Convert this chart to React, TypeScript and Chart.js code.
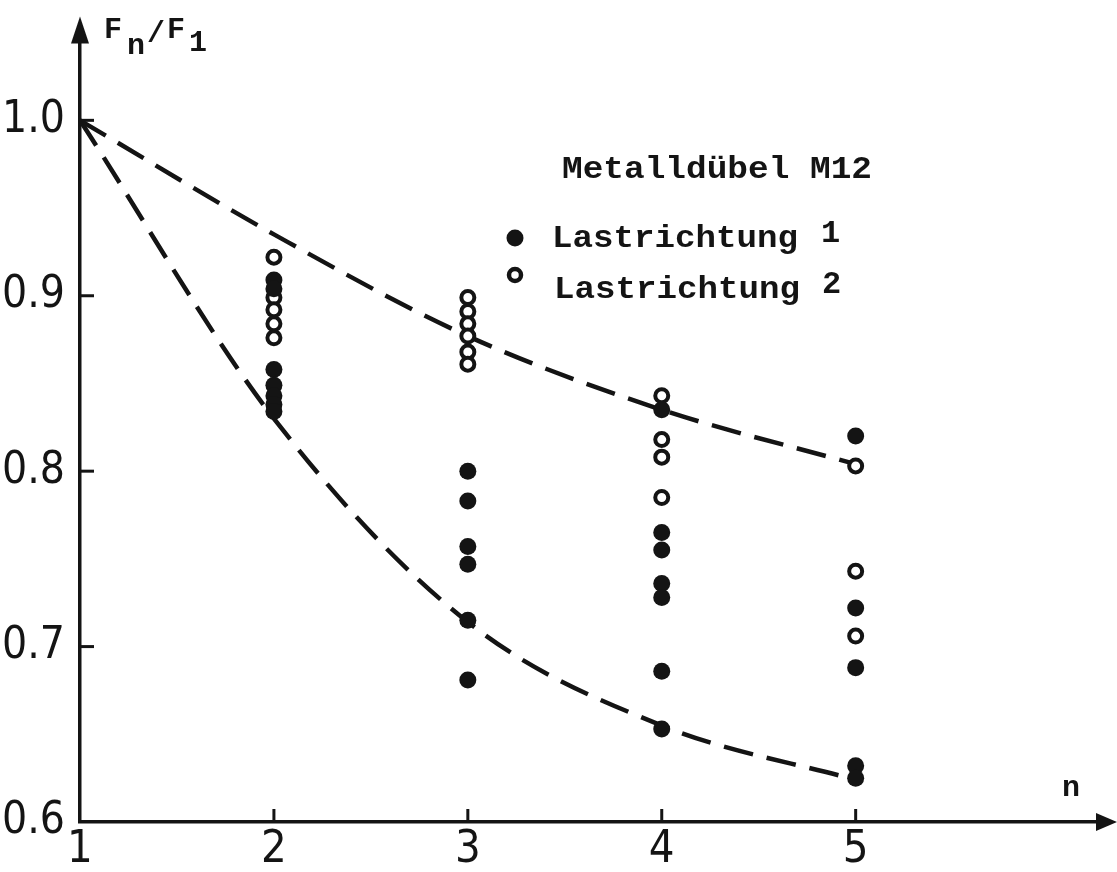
import React, { useEffect, useRef } from "react";
import { Chart, registerables } from "chart.js";

Chart.register(...registerables);

// ---------- data ----------
const nValues = [1, 2, 3, 4, 5];
const yTickValues = [0.6, 0.7, 0.8, 0.9, 1.0];
const yTickLabels = ["0.6", "0.7", "0.8", "0.9", "1.0"];

// Lastrichtung 1 (filled markers), per n
const dir1_n2 = [0.909, 0.904, 0.858, 0.849, 0.843, 0.838, 0.834];
const dir1_n3 = [0.8, 0.783, 0.757, 0.747, 0.715, 0.681];
const dir1_n4 = [0.835, 0.765, 0.755, 0.736, 0.728, 0.686, 0.653];
const dir1_n5 = [0.82, 0.722, 0.688, 0.632, 0.625];

// Lastrichtung 2 (open markers), per n
const dir2_n2 = [0.922, 0.899, 0.892, 0.884, 0.876];
const dir2_n3 = [0.899, 0.891, 0.884, 0.877, 0.868, 0.861];
const dir2_n4 = [0.843, 0.818, 0.808, 0.785];
const dir2_n5 = [0.803, 0.743, 0.706];

// dashed envelope curves at n = 1..5
const upperCurve = [1.0, 0.935, 0.877, 0.835, 0.804];
const lowerCurve = [1.0, 0.83, 0.714, 0.655, 0.624];

const titleText = "Metalldübel M12";
const legendLabel = "Lastrichtung";
const legendNumbers = ["1", "2"];

// ---------- styling ----------
const INK = "#141414";
const NARROW = "'Liberation Sans Narrow', 'DejaVu Sans Condensed', sans-serif";
const MONO = "'Liberation Mono', 'Courier New', monospace";

const toPoints = (groups: [number, number[]][]) =>
  groups.flatMap(([n, ys]) => ys.map((y) => ({ x: n, y })));

const drawStretched = (
  ctx: CanvasRenderingContext2D,
  text: string,
  x: number,
  y: number,
  font: string,
  width?: number
) => {
  ctx.save();
  ctx.font = font;
  ctx.textAlign = "left";
  ctx.textBaseline = "alphabetic";
  const w = ctx.measureText(text).width;
  const sx = width ? width / w : 1;
  ctx.translate(x, y);
  ctx.scale(sx, 1);
  ctx.fillText(text, 0, 0);
  ctx.restore();
};

const decorPlugin = {
  id: "decor",
  afterDraw(chart: any) {
    const ctx: CanvasRenderingContext2D = chart.ctx;
    const { left, right, top, bottom } = chart.chartArea;
    const xs = chart.scales.x;
    const ys = chart.scales.y;
    ctx.save();
    ctx.fillStyle = INK;
    ctx.strokeStyle = INK;

    // y-axis arrow
    ctx.beginPath();
    ctx.moveTo(left - 9, top + 2);
    ctx.lineTo(left, top - 25);
    ctx.lineTo(left + 9, top + 2);
    ctx.closePath();
    ctx.fill();
    // x-axis arrow
    ctx.beginPath();
    ctx.moveTo(right - 4, bottom - 9);
    ctx.lineTo(right + 17, bottom);
    ctx.lineTo(right - 4, bottom + 9);
    ctx.closePath();
    ctx.fill();

    // tick marks
    ctx.lineWidth = 3;
    yTickValues.slice(1).forEach((v) => {
      const py = ys.getPixelForValue(v);
      ctx.beginPath();
      ctx.moveTo(left, py);
      ctx.lineTo(left + 14, py);
      ctx.stroke();
    });
    nValues.slice(1).forEach((v) => {
      const px = xs.getPixelForValue(v);
      ctx.beginPath();
      ctx.moveTo(px, bottom);
      ctx.lineTo(px, bottom - 13);
      ctx.stroke();
    });

    // axis titles
    const f30 = `bold 30px ${MONO}`;
    drawStretched(ctx, "F", 104, 38, f30);
    drawStretched(ctx, "n", 127, 54, f30);
    drawStretched(ctx, "/", 147, 42, f30);
    drawStretched(ctx, "F", 167, 38, f30);
    drawStretched(ctx, "1", 189, 51, f30);
    drawStretched(ctx, "n", 1062, 796, `bold 30px ${MONO}`);

    // legend
    const lf = `bold 32px ${MONO}`;
    drawStretched(ctx, titleText, 562, 178, lf, 310);
    drawStretched(ctx, legendLabel, 552, 247, lf, 246);
    drawStretched(ctx, legendNumbers[0], 821, 242, lf);
    drawStretched(ctx, legendLabel, 554, 298, lf, 246);
    drawStretched(ctx, legendNumbers[1], 822, 293, lf);

    ctx.beginPath();
    ctx.arc(515, 238, 8.5, 0, Math.PI * 2);
    ctx.fill();
    ctx.beginPath();
    ctx.lineWidth = 4.5;
    ctx.arc(515, 275, 6, 0, Math.PI * 2);
    ctx.fillStyle = "#fff";
    ctx.fill();
    ctx.stroke();

    ctx.restore();
  },
};

export default function App() {
  const ref = useRef<HTMLCanvasElement | null>(null);

  useEffect(() => {
    document.body.style.margin = "0";
    document.body.style.background = "#fff";
    if (!ref.current) return;

    const filled = toPoints([
      [2, dir1_n2],
      [3, dir1_n3],
      [4, dir1_n4],
      [5, dir1_n5],
    ]);
    const open = toPoints([
      [2, dir2_n2],
      [3, dir2_n3],
      [4, dir2_n4],
      [5, dir2_n5],
    ]);
    const upper = nValues.map((n, i) => ({ x: n, y: upperCurve[i] }));
    const lower = nValues.map((n, i) => ({ x: n, y: lowerCurve[i] }));

    const chart = new Chart(ref.current, {
      type: "scatter",
      data: {
        datasets: [
          {
            label: "Lastrichtung 1",
            data: filled,
            pointRadius: 8.5,
            pointBackgroundColor: INK,
            pointBorderWidth: 0,
            showLine: false,
            order: 0,
          },
          {
            label: "Lastrichtung 2",
            data: open,
            pointRadius: 6.5,
            pointBackgroundColor: "#fff",
            pointBorderColor: INK,
            pointBorderWidth: 4,
            showLine: false,
            order: 0,
          },
          {
            label: "upper",
            data: upper,
            showLine: true,
            borderColor: INK,
            borderWidth: 4.5,
            borderDash: [30, 14],
            cubicInterpolationMode: "monotone",
            pointRadius: 0,
            order: 1,
          },
          {
            label: "lower",
            data: lower,
            showLine: true,
            borderColor: INK,
            borderWidth: 4.5,
            borderDash: [30, 14],
            cubicInterpolationMode: "monotone",
            pointRadius: 0,
            order: 1,
          },
        ] as any,
      },
      options: {
        animation: false,
        responsive: false,
        devicePixelRatio: 1,
        layout: { padding: { top: 40, right: 17, left: 0, bottom: 0 } },
        plugins: { legend: { display: false }, tooltip: { enabled: false } },
        scales: {
          x: {
            type: "linear",
            min: 1,
            max: 6.26,
            afterFit(s: any) {
              s.height = 50;
            },
            afterBuildTicks(s: any) {
              s.ticks = nValues.map((v) => ({ value: v }));
            },
            grid: { display: false, drawTicks: false },
            border: { display: true, width: 3.5, color: INK },
            ticks: {
              color: INK,
              font: { family: NARROW, size: 45 },
              padding: 1,
              maxRotation: 0,
              callback: (v: any) => String(v),
            },
          },
          y: {
            type: "linear",
            min: 0.6,
            max: 1.045,
            afterFit(s: any) {
              s.width = 80;
            },
            afterBuildTicks(s: any) {
              s.ticks = yTickValues.map((v) => ({ value: v }));
            },
            grid: { display: false, drawTicks: false },
            border: { display: true, width: 3.5, color: INK },
            ticks: {
              color: INK,
              font: { family: NARROW, size: 44 },
              padding: 15,
              callback: (v: any) => {
                const i = yTickValues.findIndex((t) => Math.abs(t - v) < 1e-9);
                return i >= 0 ? yTickLabels[i] : "";
              },
            },
          },
        },
      } as any,
      plugins: [decorPlugin],
    });

    return () => chart.destroy();
  }, []);

  return (
    <div style={{ width: 1117, height: 872, position: "relative" }}>
      <canvas ref={ref} width={1117} height={872} style={{ display: "block" }} />
    </div>
  );
}
